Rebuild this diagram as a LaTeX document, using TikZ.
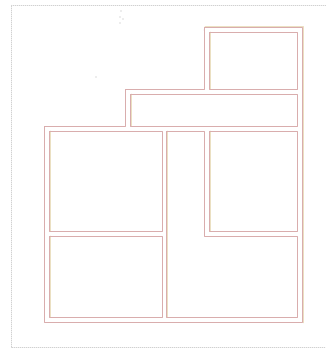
\documentclass[tikz,border=0pt]{standalone}
\usetikzlibrary{calc}

\definecolor{wallpink}{rgb}{0.85,0.68,0.68}
\definecolor{wallbuff}{rgb}{0.92,0.88,0.76}
\definecolor{framegray}{rgb}{0.82,0.82,0.82}

\begin{document}
\begin{tikzpicture}[
    x=1pt, y=-1pt, line cap=round, line join=round,
    wall/.style={draw=wallpink, line width=0.8pt},
    wallshade/.style={draw=wallbuff, line width=0.6pt},
    frame/.style={draw=framegray, line width=0.4pt, dash pattern=on 1pt off 1pt},
    speck/.style={fill=gray!60},
  ]
  \useasboundingbox (0,0) rectangle (325,350);

  % --- sheet frame ---
  \draw[frame] (326,5) -- (11,5) -- (11,347) -- (326,347);

  % --- specks ---
  \fill[speck] (121,11) circle (0.6);
  \fill[speck] (120,17) circle (0.6);
  \fill[speck] (123,19) circle (0.6);
  \fill[speck] (120,23) circle (0.6);
  \fill[speck] (96,77) circle (0.7);
  \fill[speck] (204,30) circle (0.5);

  % --- outer wall line ---
  \coordinate (o1) at (204,27);
  \coordinate (o2) at (302,27);
  \coordinate (o3) at (302,322);
  \coordinate (o4) at (44,322);
  \coordinate (o5) at (44,126);
  \coordinate (o6) at (125,126);
  \coordinate (o7) at (125,89);
  \coordinate (o8) at (204,89);
  \draw[wallshade] ($(o1)+(0.9,-0.9)$) -- ($(o2)+(0.9,-0.9)$) -- ($(o3)+(0.9,0.9)$);
  \draw[wall] (o1) -- (o2) -- (o3) -- (o4) -- (o5) -- (o6) -- (o7) -- (o8) -- cycle;

  % --- rooms (inner lines) ---
  \foreach \xa/\ya/\xb/\yb in {209/32/297/89, 130/94/297/126,
      49/131/162/231, 49/236/162/317, 209/131/297/231}{
    \draw[wallshade] (\xa+0.9,\ya) -- (\xa+0.9,\yb);
    \draw[wall] (\xa,\ya) rectangle (\xb,\yb);
  }

  % --- L-shaped room ---
  \draw[wallshade] (166.9,131) -- (166.9,317);
  \draw[wall] (166,131) -- (204,131) -- (204,236) -- (297,236)
    -- (297,317) -- (166,317) -- cycle;
\end{tikzpicture}
\end{document}
